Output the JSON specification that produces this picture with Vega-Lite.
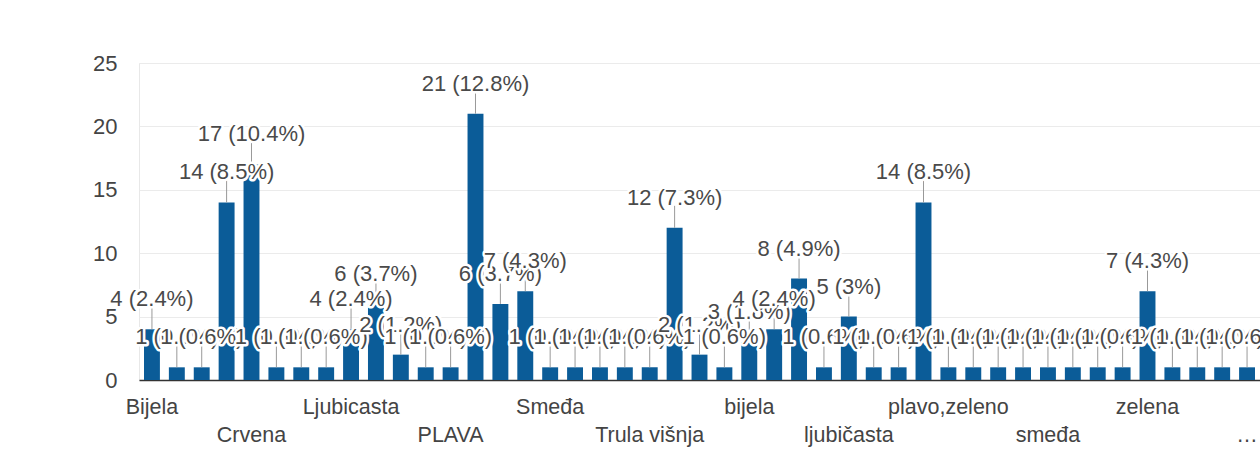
{
  "$schema": "https://vega.github.io/schema/vega-lite/v6.json",
  "autosize": {"type": "none"},
  "padding": {"left": 139, "top": 63, "right": 0, "bottom": 84},
  "width": 1121,
  "height": 317,
  "background": "white",
  "config": {
    "font": "Liberation Sans",
    "view": {"stroke": "#e8e8e8", "strokeWidth": 1}
  },
  "data": {
    "values": [
      {"c": "Bijela", "v": 4, "l": "4 (2.4%)"},
      {"c": "Bordo", "v": 1, "l": "1 (0.6%)"},
      {"c": "Cijan", "v": 1, "l": "1 (0.6%)"},
      {"c": "Crna", "v": 14, "l": "14 (8.5%)"},
      {"c": "Crvena", "v": 17, "l": "17 (10.4%)"},
      {"c": "Crvena i crna", "v": 1, "l": "1 (0.6%)"},
      {"c": "Kraljevsko plava", "v": 1, "l": "1 (0.6%)"},
      {"c": "Limeta", "v": 1, "l": "1 (0.6%)"},
      {"c": "Ljubicasta", "v": 4, "l": "4 (2.4%)"},
      {"c": "Ljubičasta", "v": 6, "l": "6 (3.7%)"},
      {"c": "Narančasta", "v": 2, "l": "2 (1.2%)"},
      {"c": "Nebesko plava", "v": 1, "l": "1 (0.6%)"},
      {"c": "PLAVA", "v": 1, "l": "1 (0.6%)"},
      {"c": "Plava", "v": 21, "l": "21 (12.8%)"},
      {"c": "Roza", "v": 6, "l": "6 (3.7%)"},
      {"c": "Siva", "v": 7, "l": "7 (4.3%)"},
      {"c": "Smeđa", "v": 1, "l": "1 (0.6%)"},
      {"c": "Svijetlo plava", "v": 1, "l": "1 (0.6%)"},
      {"c": "Tamno plava", "v": 1, "l": "1 (0.6%)"},
      {"c": "Tirkizna", "v": 1, "l": "1 (0.6%)"},
      {"c": "Trula višnja", "v": 1, "l": "1 (0.6%)"},
      {"c": "Zelena", "v": 12, "l": "12 (7.3%)"},
      {"c": "Zlatna", "v": 2, "l": "2 (1.2%)"},
      {"c": "bež", "v": 1, "l": "1 (0.6%)"},
      {"c": "bijela", "v": 3, "l": "3 (1.8%)"},
      {"c": "crna", "v": 4, "l": "4 (2.4%)"},
      {"c": "crvena", "v": 8, "l": "8 (4.9%)"},
      {"c": "ljubicasta", "v": 1, "l": "1 (0.6%)"},
      {"c": "ljubičasta", "v": 5, "l": "5 (3%)"},
      {"c": "narančasta", "v": 1, "l": "1 (0.6%)"},
      {"c": "nebo plava", "v": 1, "l": "1 (0.6%)"},
      {"c": "plava", "v": 14, "l": "14 (8.5%)"},
      {"c": "plavo,zeleno", "v": 1, "l": "1 (0.6%)"},
      {"c": "roza", "v": 1, "l": "1 (0.6%)"},
      {"c": "ružičasta", "v": 1, "l": "1 (0.6%)"},
      {"c": "siva", "v": 1, "l": "1 (0.6%)"},
      {"c": "smeđa", "v": 1, "l": "1 (0.6%)"},
      {"c": "srebrna", "v": 1, "l": "1 (0.6%)"},
      {"c": "tamnoplava", "v": 1, "l": "1 (0.6%)"},
      {"c": "tirkizna", "v": 1, "l": "1 (0.6%)"},
      {"c": "zelena", "v": 7, "l": "7 (4.3%)"},
      {"c": "zlatna", "v": 1, "l": "1 (0.6%)"},
      {"c": "žuta", "v": 1, "l": "1 (0.6%)"},
      {"c": "žuta i plava", "v": 1, "l": "1 (0.6%)"},
      {"c": "žuta, zelena, plava i crna", "v": 1, "l": "1 (0.6%)"}
    ]
  },
  "encoding": {
    "x": {
      "field": "c",
      "type": "nominal",
      "sort": null,
      "scale": {"paddingInner": 0.36, "paddingOuter": 0.2},
      "axis": {
        "title": null,
        "values": ["Bijela", "Crvena", "Ljubicasta", "PLAVA", "Smeđa", "Trula višnja", "bijela", "ljubičasta", "plavo,zeleno", "smeđa", "zelena", "žuta, zelena, plava i crna"],
        "labelExpr": "length(datum.label) > 14 ? '…' : datum.label",
        "labelAngle": 0,
        "labelBaseline": "top",
        "labelFontSize": 21.5,
        "labelColor": "#444444",
        "labelOverlap": false,
        "labelPadding": {"condition": {"test": "indexof(['Crvena','PLAVA','Trula višnja','ljubičasta','smeđa','žuta, zelena, plava i crna'], datum.value) >= 0", "value": 44}, "value": 16},
        "ticks": false,
        "tickSize": 0,
        "domain": true,
        "domainColor": "#333333",
        "domainWidth": 1.5,
        "grid": false
      }
    }
  },
  "layer": [
    {
      "mark": {"type": "bar", "color": "#0b5c98"},
      "encoding": {
        "y": {
          "field": "v",
          "type": "quantitative",
          "scale": {"domain": [0, 25], "nice": false},
          "axis": {
            "title": null,
            "values": [0, 5, 10, 15, 20, 25],
            "labelFontSize": 22,
            "labelColor": "#444444",
            "labelPadding": 22,
            "ticks": false,
            "tickSize": 0,
            "domain": false,
            "grid": true,
            "gridColor": "#ebebeb",
            "gridWidth": 1
          }
        }
      }
    },
    {
      "mark": {"type": "rule", "color": "#999999", "strokeWidth": 1, "y2Offset": -22},
      "encoding": {
        "y": {"field": "v", "type": "quantitative"},
        "y2": {"field": "v"}
      }
    },
    {
      "transform": [{"fold": ["c", "l"], "as": ["part", "partValue"]}],
      "mark": {"type": "text", "baseline": "alphabetic", "dy": -23, "fontSize": 22, "stroke": "white", "strokeJoin": "round"},
      "encoding": {
        "y": {"field": "v", "type": "quantitative"},
        "text": {"field": "l"},
        "fill": {"condition": {"test": "datum.part == 'c'", "value": "white"}, "value": "#4a4a4a"},
        "strokeWidth": {"condition": {"test": "datum.part == 'c'", "value": 5}, "value": 0}
      }
    }
  ]
}
